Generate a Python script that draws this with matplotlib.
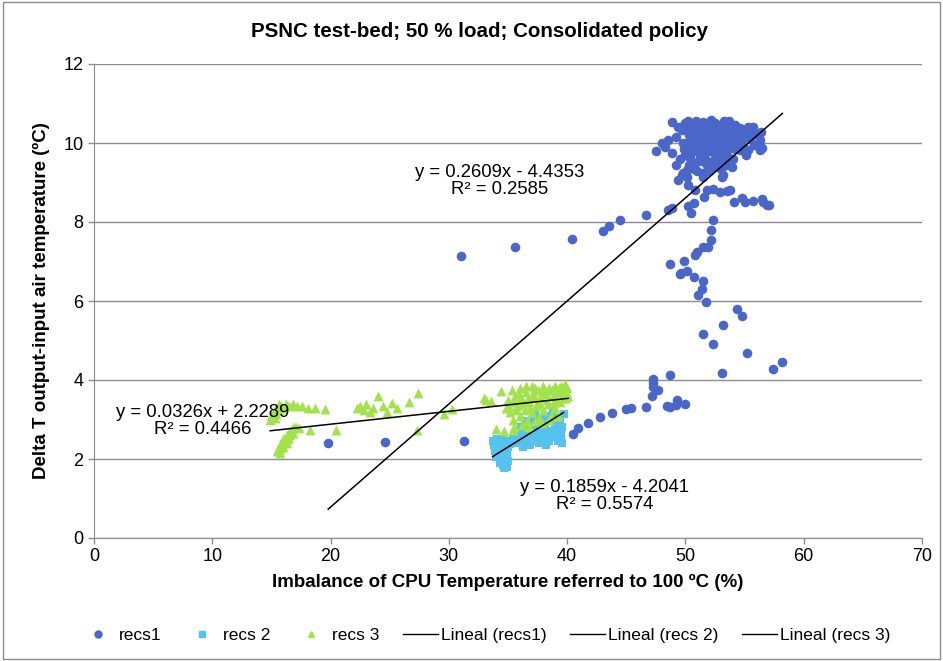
import numpy as np
import matplotlib.pyplot as plt
from matplotlib.patches import Rectangle
from matplotlib.lines import Line2D

plt.rcParams['font.family'] = ['Liberation Sans', 'DejaVu Sans']

# recs1 (blue circles)
recs1_x = [19.8, 24.6, 31.3, 40.5, 40.9, 41.8, 42.8, 43.8, 45.0, 45.4, 46.7, 47.2, 47.3, 47.3, 47.3,
           47.7, 48.4, 48.7, 49.2, 49.3, 50.0, 48.7, 53.1, 51.5, 52.3, 53.2, 55.2, 54.4, 54.8, 57.4,
           58.2, 51.7, 51.1, 51.4, 51.5, 50.7, 49.5, 50.1, 49.9, 48.7, 50.8, 51.0, 51.5, 51.9, 52.2,
           52.2, 52.3, 49.6,
           31.0, 35.6, 40.4, 43.0, 43.5, 44.5, 46.7, 48.5, 48.9,
           50.5, 50.2, 50.7, 51.6, 51.8, 52.3, 52.9, 53.5, 53.8, 54.1, 54.8, 55.0, 55.7, 56.5, 56.6,
           56.9, 57.1, 50.8, 49.4, 50.2, 49.8, 50.1, 51.5, 53.1, 53.2,
           48.9, 47.5, 48.0, 48.3, 48.5, 49.2, 48.9, 49.4, 49.7, 50.0, 54.2, 54.6, 55.0, 55.3, 55.7,
           56.3, 56.5, 56.3, 55.3, 54.6, 53.6,
           50.5, 51.0, 51.5, 52.0, 52.5, 53.0, 53.5, 50.3, 50.8, 51.3, 51.8, 52.3, 52.8, 53.3, 53.8,
           54.3, 49.8, 50.3, 50.8, 51.3, 51.8, 52.3, 52.8, 53.3, 53.8, 54.4, 50.0, 50.5, 51.0, 51.6,
           52.1, 52.6, 53.1, 53.6, 54.0, 50.3, 50.8, 51.3, 51.8, 52.3, 52.8, 53.4, 51.0, 52.0, 55.5,
           55.8, 54.8, 49.5, 49.2, 50.9, 52.2, 53.7,
           50.1, 50.6, 51.1, 51.6, 52.1, 52.6, 53.1, 53.6, 54.1, 50.4, 50.9, 51.4, 51.9, 52.4, 52.9,
           53.4, 53.9, 54.6, 50.6, 51.2, 51.7, 52.2, 52.7, 53.2, 53.7, 49.9, 50.4, 51.2, 52.5, 53.5,
           54.2, 54.9, 55.4, 55.9, 56.1, 56.4, 55.1, 49.7, 50.1, 50.7, 51.5, 52.4, 53.0, 53.9, 51.2,
           52.6, 51.9, 52.9, 50.2, 50.6, 51.4, 52.8, 53.3, 51.7]
recs1_y = [2.40, 2.43, 2.46, 2.63, 2.78, 2.92, 3.06, 3.16, 3.27, 3.29, 3.32, 3.60, 3.82, 3.92, 4.03,
           3.75, 3.34, 3.32, 3.37, 3.49, 3.39, 4.13, 4.18, 5.16, 4.91, 5.39, 4.68, 5.80, 5.62, 4.28,
           4.46, 5.97, 6.15, 6.30, 6.51, 6.60, 6.68, 6.76, 7.01, 6.94, 7.16, 7.24, 7.37, 7.37, 7.54,
           7.80, 8.05, 6.70,
           7.15, 7.37, 7.57, 7.77, 7.90, 8.05, 8.18, 8.30, 8.35,
           8.22, 8.40, 8.48, 8.63, 8.81, 8.84, 8.76, 8.78, 8.80, 8.50, 8.61, 8.51, 8.53, 8.58, 8.51,
           8.43, 8.43, 8.81, 9.06, 8.94, 9.24, 9.32, 9.24, 9.14, 9.19,
           9.75, 9.80, 10.00, 9.90, 10.08, 10.15, 10.53, 10.41, 10.33, 10.50, 10.46, 10.38, 10.25,
           10.41, 10.40, 10.08, 9.87, 9.82, 9.82, 9.82, 9.65,
           10.45, 10.50, 10.52, 10.48, 10.50, 10.45, 10.40, 10.20, 10.30, 10.25, 10.30, 10.25, 10.30,
           10.20, 10.25, 10.15, 10.00, 9.95, 10.05, 10.00, 10.10, 9.95, 10.05, 9.98, 10.00, 10.00,
           9.70, 9.75, 9.80, 9.70, 9.80, 9.70, 9.75, 9.85, 9.60, 9.45, 9.50, 9.55, 9.45, 9.50, 9.55,
           9.45, 9.30, 9.30, 10.10, 9.95, 10.10, 9.60, 9.45, 10.55, 10.58, 10.55,
           10.35, 10.38, 10.40, 10.36, 10.38, 10.35, 10.33, 10.30, 10.32, 10.10, 10.15, 10.12, 10.18,
           10.12, 10.15, 10.10, 10.12, 10.28, 9.88, 9.90, 9.88, 9.90, 9.88, 9.90, 9.92, 9.85, 9.62,
           9.62, 9.62, 9.58, 9.85, 9.92, 10.30, 10.22, 9.95, 10.28, 9.70, 9.20, 9.15, 9.35, 9.15,
           9.38, 9.35, 9.40, 9.78, 9.82, 10.20, 10.02, 10.56, 10.05, 9.65, 9.62, 10.56, 9.58]

# recs 2 (light blue squares)
recs2_x = [33.8, 33.9, 34.0, 34.2, 34.3, 34.4, 34.5, 34.6, 34.7, 34.8, 34.9, 35.0, 35.1, 34.1, 34.6,
           35.3, 34.3, 35.0, 34.9, 33.7,
           35.5, 35.8, 36.0, 36.2, 36.4, 36.5, 36.7, 36.8, 37.0, 37.1, 37.2, 37.4, 37.5, 37.6, 37.8,
           37.9, 38.0, 38.1, 38.3, 38.4, 38.5, 38.6, 38.7, 38.9, 39.0, 39.1, 39.2, 39.3, 39.4, 39.5,
           39.6, 39.7, 39.6, 38.8, 37.3, 36.9, 36.1, 36.3, 35.7, 38.2,
           34.0, 34.4, 34.8, 35.2, 35.6, 36.0, 36.6, 37.0, 37.6, 38.0, 38.6, 39.0, 39.4, 36.4, 37.2,
           37.8, 38.4, 39.2, 35.4, 34.6]
recs2_y = [2.35, 2.20, 2.05, 2.40, 2.25, 2.10, 1.95, 1.85, 1.78, 2.00, 2.15, 2.30, 2.45, 2.50, 2.50,
           2.40, 1.90, 1.95, 1.80, 2.45,
           2.45, 2.55, 2.40, 2.60, 2.75, 2.50, 2.90, 2.65, 2.45, 2.80, 3.00, 2.60, 2.90, 2.40, 2.75,
           3.05, 2.55, 2.85, 2.65, 3.10, 2.45, 2.95, 2.70, 2.55, 2.85, 3.05, 2.45, 2.70, 2.95, 2.60,
           2.80, 3.15, 2.40, 3.25, 3.20, 2.35, 2.80, 2.30, 2.70, 2.35,
           2.30, 2.35, 2.22, 2.38, 2.60, 2.65, 2.60, 2.70, 2.55, 2.70, 2.60, 2.65, 2.80, 2.95, 2.55,
           2.90, 2.55, 2.95, 2.50, 2.05]

# recs 3 (green triangles)
recs3_x = [15.5, 15.6, 15.7, 15.8, 15.9, 16.0, 16.1, 16.2, 16.3, 16.4, 16.5, 16.6, 16.7, 16.9, 17.1,
           16.0, 16.3, 15.7, 16.8, 17.3,
           14.9, 15.0, 15.2, 15.3, 15.4, 15.6, 15.8, 16.0, 16.2, 16.5, 16.8, 17.2, 17.6, 18.1, 18.7,
           19.5, 18.3, 20.5,
           22.2, 22.5, 22.8, 23.0, 23.3, 23.6, 24.0, 24.4, 24.8, 25.2, 25.6, 26.6, 27.4, 27.3, 29.6,
           30.3, 33.1, 33.6, 34.4, 34.0, 34.7, 35.4, 33.0,
           35.0, 35.2, 35.4, 35.6, 35.8, 36.0, 36.0, 36.2, 36.4, 36.5, 36.6, 36.8, 37.0, 37.0, 37.2,
           37.4, 37.5, 37.6, 37.8, 38.0, 38.0, 38.2, 38.4, 38.5, 38.6, 38.8, 39.0, 39.0, 39.2, 39.4,
           39.5, 39.6, 39.8, 39.9, 40.0, 40.1, 35.5, 36.2, 37.9, 38.5, 39.2, 34.8, 36.8, 37.3,
           35.1, 35.5, 35.9, 36.3, 36.7, 37.1, 37.5, 37.9, 38.3, 38.7, 39.1, 39.5, 39.9, 35.3, 35.7,
           36.1, 36.5, 36.9, 37.3, 37.7, 38.1, 38.9, 39.3, 39.7, 15.9, 16.1, 16.4, 16.6, 15.4, 15.6]
recs3_y = [2.20, 2.30, 2.25, 2.40, 2.35, 2.50, 2.45, 2.55, 2.60, 2.55, 2.65, 2.70, 2.75, 2.80, 2.80,
           2.30, 2.40, 2.15, 2.65, 2.78,
           3.00, 3.10, 3.20, 3.05, 3.30, 3.40, 3.35, 3.30, 3.40, 3.35, 3.38, 3.35, 3.35, 3.30, 3.30,
           3.26, 2.73, 2.73,
           3.30, 3.35, 3.25, 3.40, 3.20, 3.30, 3.60, 3.35, 3.20, 3.42, 3.29, 3.44, 3.67, 2.73, 3.14,
           3.26, 3.49, 3.47, 3.72, 2.76, 2.71, 2.73, 3.55,
           3.50, 3.20, 3.00, 3.60, 3.35, 3.80, 3.10, 3.50, 3.25, 3.70, 2.95, 3.45, 3.85, 3.20, 3.60,
           3.35, 3.75, 3.05, 3.55, 3.85, 3.25, 3.65, 3.40, 3.80, 3.10, 3.60, 3.85, 3.30, 3.70, 3.45,
           3.85, 3.55, 3.90, 3.70, 3.80, 3.60, 2.80, 2.85, 2.90, 3.00, 3.10, 3.30, 2.80, 2.95,
           3.35, 3.45, 3.65, 3.40, 3.55, 3.65, 3.45, 3.70, 3.50, 3.75, 3.55, 3.70, 3.55, 3.75, 3.25,
           3.55, 3.85, 3.30, 3.80, 3.40, 3.75, 3.45, 3.80, 3.65, 2.40, 2.50, 2.50, 2.60, 3.15, 3.25]

# trendline coefficients shown on the chart
fit1 = (0.2609, -4.4353)
fit2 = (0.1859, -4.2041)
fit3 = (0.0326, 2.2289)

c_blue = '#4A66C8'
c_light = '#55C3EE'
c_green = '#A2E24A'

fig = plt.figure(figsize=(9.43, 6.61), dpi=100)
fig.patches.append(Rectangle((0.003, 0.003), 0.994, 0.994, transform=fig.transFigure,
                             fill=False, edgecolor='#8c8c8c', linewidth=1))
ax = fig.add_axes([94/943, 123/661, 828/943, 474/661])

ax.scatter(recs1_x, recs1_y, s=48, marker='o', color=c_blue, linewidths=0, zorder=3)
ax.scatter(recs2_x, recs2_y, s=40, marker='s', color=c_light, linewidths=0, zorder=3)
ax.scatter(recs3_x, recs3_y, s=50, marker='^', color=c_green, linewidths=0, zorder=3)

for xs, (m, b) in [(recs1_x, fit1), (recs2_x, fit2), (recs3_x, fit3)]:
    xx = np.array([min(xs), max(xs)])
    ax.plot(xx, m * xx + b, color='black', linewidth=1.1, zorder=4)

ax.text(34.3, 9.04, 'y = 0.2609x - 4.4353\nR² = 0.2585', ha='center', va='center', fontsize=13.3,
        linespacing=1.0)
ax.text(9.2, 2.96, 'y = 0.0326x + 2.2289\nR² = 0.4466', ha='center', va='center', fontsize=13.3,
        linespacing=1.0, zorder=5)
ax.text(43.2, 1.06, 'y = 0.1859x - 4.2041\nR² = 0.5574', ha='center', va='center', fontsize=13.3,
        linespacing=1.0)

ax.set_xlim(0, 70)
ax.set_ylim(0, 12)
ax.set_xticks(range(0, 71, 10))
ax.set_yticks(range(0, 13, 2))
ax.tick_params(labelsize=13, length=4, color='#8c8c8c', width=1)
ax.grid(axis='y', color='#8c8c8c', linewidth=1)
ax.set_axisbelow(True)
for side in ['top', 'right']:
    ax.spines[side].set_visible(False)
for side in ['left', 'bottom']:
    ax.spines[side].set_color('#8c8c8c')

ax.set_xlabel('Imbalance of CPU Temperature referred to 100 ºC (%)', fontsize=13.5,
              fontweight='bold', labelpad=6)
ax.set_ylabel('Delta T output-input air temperature (ºC)', fontsize=13.5, fontweight='bold',
              labelpad=10)
fig.text(0.509, 0.953, 'PSNC test-bed; 50 % load; Consolidated policy', ha='center', va='center',
         fontsize=14.8, fontweight='bold')

handles = [
    Line2D([], [], marker='o', color=c_blue, linestyle='none', markersize=5),
    Line2D([], [], marker='s', color=c_light, linestyle='none', markersize=5),
    Line2D([], [], marker='^', color=c_green, linestyle='none', markersize=5),
    Line2D([], [], color='black', linewidth=1),
    Line2D([], [], color='black', linewidth=1),
    Line2D([], [], color='black', linewidth=1),
]
labels = ['recs1', 'recs 2', 'recs 3', 'Lineal (recs1)', 'Lineal (recs 2)', 'Lineal (recs 3)']
fig.legend(handles, labels, loc='center', bbox_to_anchor=(0.515, 0.038), ncol=6, frameon=False,
           fontsize=12.5, handlelength=2.0, columnspacing=1.35, handletextpad=0.2)

fig.savefig('out.png', dpi=100)
